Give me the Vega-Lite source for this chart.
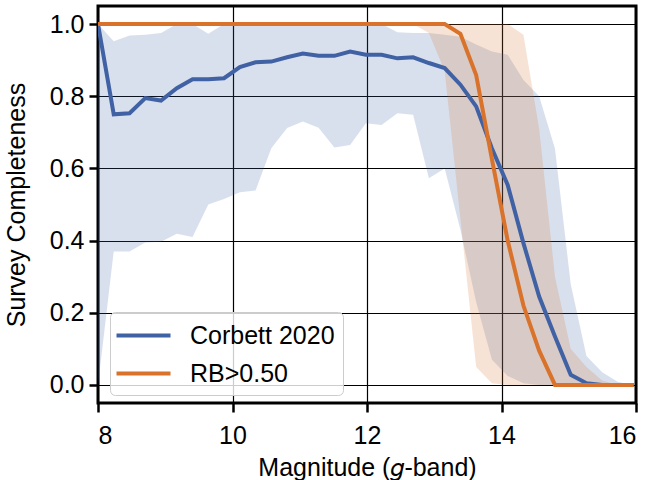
{
  "$schema": "https://vega.github.io/schema/vega-lite/v6.json",
  "width": 538,
  "height": 397,
  "autosize": {"type": "none"},
  "padding": {"left": 98, "top": 6, "right": 15, "bottom": 77},
  "background": "white",
  "config": {
    "font": "Liberation Sans",
    "view": {"stroke": "black", "strokeWidth": 3},
    "axis": {
      "domain": false,
      "grid": true,
      "gridColor": "black",
      "gridWidth": 1.2,
      "gridOpacity": 1,
      "tickColor": "black",
      "tickSize": 9,
      "tickWidth": 2.5,
      "labelFont": "Liberation Sans",
      "labelFontSize": 25,
      "labelColor": "black",
      "titleFont": "Liberation Sans",
      "titleFontSize": 25,
      "titleFontWeight": "normal",
      "titleColor": "black"
    }
  },
  "data": {
    "values": [
      {"series": "Corbett 2020", "mag": 8.0, "c": 1.0, "lo": 0.0, "hi": 1.0},
      {"series": "Corbett 2020", "mag": 8.234, "c": 0.75, "lo": 0.37, "hi": 0.952},
      {"series": "Corbett 2020", "mag": 8.469, "c": 0.753, "lo": 0.37, "hi": 0.968},
      {"series": "Corbett 2020", "mag": 8.703, "c": 0.795, "lo": 0.395, "hi": 0.97},
      {"series": "Corbett 2020", "mag": 8.937, "c": 0.788, "lo": 0.397, "hi": 0.975},
      {"series": "Corbett 2020", "mag": 9.172, "c": 0.822, "lo": 0.419, "hi": 1.0},
      {"series": "Corbett 2020", "mag": 9.406, "c": 0.847, "lo": 0.41, "hi": 1.0},
      {"series": "Corbett 2020", "mag": 9.64, "c": 0.847, "lo": 0.5, "hi": 0.973},
      {"series": "Corbett 2020", "mag": 9.874, "c": 0.85, "lo": 0.515, "hi": 1.0},
      {"series": "Corbett 2020", "mag": 10.109, "c": 0.881, "lo": 0.534, "hi": 1.0},
      {"series": "Corbett 2020", "mag": 10.343, "c": 0.894, "lo": 0.539, "hi": 1.0},
      {"series": "Corbett 2020", "mag": 10.577, "c": 0.896, "lo": 0.656, "hi": 1.0},
      {"series": "Corbett 2020", "mag": 10.812, "c": 0.908, "lo": 0.712, "hi": 1.0},
      {"series": "Corbett 2020", "mag": 11.046, "c": 0.918, "lo": 0.73, "hi": 1.0},
      {"series": "Corbett 2020", "mag": 11.28, "c": 0.912, "lo": 0.713, "hi": 1.0},
      {"series": "Corbett 2020", "mag": 11.515, "c": 0.912, "lo": 0.658, "hi": 1.0},
      {"series": "Corbett 2020", "mag": 11.749, "c": 0.924, "lo": 0.665, "hi": 1.0},
      {"series": "Corbett 2020", "mag": 11.983, "c": 0.915, "lo": 0.725, "hi": 1.0},
      {"series": "Corbett 2020", "mag": 12.217, "c": 0.915, "lo": 0.72, "hi": 1.0},
      {"series": "Corbett 2020", "mag": 12.452, "c": 0.905, "lo": 0.753, "hi": 0.977},
      {"series": "Corbett 2020", "mag": 12.686, "c": 0.908, "lo": 0.749, "hi": 0.975},
      {"series": "Corbett 2020", "mag": 12.92, "c": 0.892, "lo": 0.573, "hi": 0.975},
      {"series": "Corbett 2020", "mag": 13.155, "c": 0.878, "lo": 0.6, "hi": 0.97},
      {"series": "Corbett 2020", "mag": 13.389, "c": 0.832, "lo": 0.43, "hi": 0.965},
      {"series": "Corbett 2020", "mag": 13.623, "c": 0.772, "lo": 0.23, "hi": 0.943},
      {"series": "Corbett 2020", "mag": 13.858, "c": 0.655, "lo": 0.07, "hi": 0.924},
      {"series": "Corbett 2020", "mag": 14.092, "c": 0.554, "lo": 0.025, "hi": 0.915},
      {"series": "Corbett 2020", "mag": 14.326, "c": 0.393, "lo": 0.005, "hi": 0.845},
      {"series": "Corbett 2020", "mag": 14.56, "c": 0.245, "lo": 0.0, "hi": 0.8},
      {"series": "Corbett 2020", "mag": 14.795, "c": 0.134, "lo": 0.0, "hi": 0.655},
      {"series": "Corbett 2020", "mag": 15.029, "c": 0.028, "lo": 0.0, "hi": 0.28},
      {"series": "Corbett 2020", "mag": 15.263, "c": 0.005, "lo": 0.0, "hi": 0.08},
      {"series": "Corbett 2020", "mag": 15.498, "c": 0.0, "lo": 0.0, "hi": 0.035},
      {"series": "Corbett 2020", "mag": 15.732, "c": 0.0, "lo": 0.0, "hi": 0.008},
      {"series": "Corbett 2020", "mag": 15.966, "c": 0.0, "lo": 0.0, "hi": 0.0},
      {"series": "RB>0.50", "mag": 8.0, "c": 1.0, "lo": 1.0, "hi": 1.0},
      {"series": "RB>0.50", "mag": 8.234, "c": 1.0, "lo": 1.0, "hi": 1.0},
      {"series": "RB>0.50", "mag": 8.469, "c": 1.0, "lo": 1.0, "hi": 1.0},
      {"series": "RB>0.50", "mag": 8.703, "c": 1.0, "lo": 1.0, "hi": 1.0},
      {"series": "RB>0.50", "mag": 8.937, "c": 1.0, "lo": 1.0, "hi": 1.0},
      {"series": "RB>0.50", "mag": 9.172, "c": 1.0, "lo": 1.0, "hi": 1.0},
      {"series": "RB>0.50", "mag": 9.406, "c": 1.0, "lo": 1.0, "hi": 1.0},
      {"series": "RB>0.50", "mag": 9.64, "c": 1.0, "lo": 1.0, "hi": 1.0},
      {"series": "RB>0.50", "mag": 9.874, "c": 1.0, "lo": 1.0, "hi": 1.0},
      {"series": "RB>0.50", "mag": 10.109, "c": 1.0, "lo": 1.0, "hi": 1.0},
      {"series": "RB>0.50", "mag": 10.343, "c": 1.0, "lo": 1.0, "hi": 1.0},
      {"series": "RB>0.50", "mag": 10.577, "c": 1.0, "lo": 1.0, "hi": 1.0},
      {"series": "RB>0.50", "mag": 10.812, "c": 1.0, "lo": 1.0, "hi": 1.0},
      {"series": "RB>0.50", "mag": 11.046, "c": 1.0, "lo": 1.0, "hi": 1.0},
      {"series": "RB>0.50", "mag": 11.28, "c": 1.0, "lo": 1.0, "hi": 1.0},
      {"series": "RB>0.50", "mag": 11.515, "c": 1.0, "lo": 1.0, "hi": 1.0},
      {"series": "RB>0.50", "mag": 11.749, "c": 1.0, "lo": 1.0, "hi": 1.0},
      {"series": "RB>0.50", "mag": 11.983, "c": 1.0, "lo": 1.0, "hi": 1.0},
      {"series": "RB>0.50", "mag": 12.217, "c": 1.0, "lo": 1.0, "hi": 1.0},
      {"series": "RB>0.50", "mag": 12.452, "c": 1.0, "lo": 1.0, "hi": 1.0},
      {"series": "RB>0.50", "mag": 12.686, "c": 1.0, "lo": 1.0, "hi": 1.0},
      {"series": "RB>0.50", "mag": 12.92, "c": 1.0, "lo": 0.975, "hi": 1.0},
      {"series": "RB>0.50", "mag": 13.155, "c": 1.0, "lo": 0.87, "hi": 1.0},
      {"series": "RB>0.50", "mag": 13.389, "c": 0.973, "lo": 0.46, "hi": 1.0},
      {"series": "RB>0.50", "mag": 13.623, "c": 0.859, "lo": 0.05, "hi": 1.0},
      {"series": "RB>0.50", "mag": 13.858, "c": 0.625, "lo": 0.005, "hi": 1.0},
      {"series": "RB>0.50", "mag": 14.092, "c": 0.4, "lo": 0.0, "hi": 1.0},
      {"series": "RB>0.50", "mag": 14.326, "c": 0.22, "lo": 0.0, "hi": 0.97},
      {"series": "RB>0.50", "mag": 14.56, "c": 0.095, "lo": 0.0, "hi": 0.71},
      {"series": "RB>0.50", "mag": 14.795, "c": 0.0, "lo": 0.0, "hi": 0.3},
      {"series": "RB>0.50", "mag": 15.029, "c": 0.0, "lo": 0.0, "hi": 0.1},
      {"series": "RB>0.50", "mag": 15.263, "c": 0.0, "lo": 0.0, "hi": 0.05},
      {"series": "RB>0.50", "mag": 15.498, "c": 0.0, "lo": 0.0, "hi": 0.012},
      {"series": "RB>0.50", "mag": 15.732, "c": 0.0, "lo": 0.0, "hi": 0.0},
      {"series": "RB>0.50", "mag": 15.966, "c": 0.0, "lo": 0.0, "hi": 0.0}
    ]
  },
  "encoding": {
    "x": {"field": "mag", "type": "quantitative", "scale": {"domain": [8, 16], "nice": false},
          "axis": {"values": [8, 10, 12, 14, 16], "format": "d", "labelPadding": 11, "title": "Magnitude (𝑔-band)", "titlePadding": 7}},
    "color": {"field": "series", "type": "nominal",
              "scale": {"domain": ["Corbett 2020", "RB>0.50"], "range": ["#4062a5", "#d9732b"]},
              "legend": {
                "title": null,
                "orient": "none",
                "legendX": 12,
                "legendY": 306,
                "fillColor": "rgba(255,255,255,0.8)",
                "strokeColor": "#cccccc",
                "cornerRadius": 5,
                "padding": 8,
                "labelFont": "Liberation Sans",
                "labelFontSize": 25,
                "labelColor": "black",
                "symbolType": "M -2 0 L 2 0",
                "symbolSize": 729,
                "symbolStrokeWidth": 4,
                "symbolOpacity": 1,
                "symbolOffset": 10,
                "labelOffset": 31,
                "rowPadding": 9,
                "encode": {"symbols": {"update": {"stroke": {"scale": "color", "field": "value"}, "strokeWidth": {"value": 4}, "opacity": {"value": 1}}}}
              }}
  },
  "layer": [
    {
      "mark": {"type": "area", "opacity": 0.2, "clip": true},
      "encoding": {
        "y": {"field": "lo", "type": "quantitative", "scale": {"domain": [-0.05, 1.05], "nice": false, "zero": false},
              "axis": {"values": [0, 0.2, 0.4, 0.6, 0.8, 1.0], "format": ".1f", "labelPadding": 5, "title": "Survey Completeness", "titlePadding": 20}},
        "y2": {"field": "hi"}
      }
    },
    {
      "mark": {"type": "line", "strokeWidth": 4, "clip": true},
      "encoding": {
        "y": {"field": "c", "type": "quantitative"}
      }
    }
  ]
}
